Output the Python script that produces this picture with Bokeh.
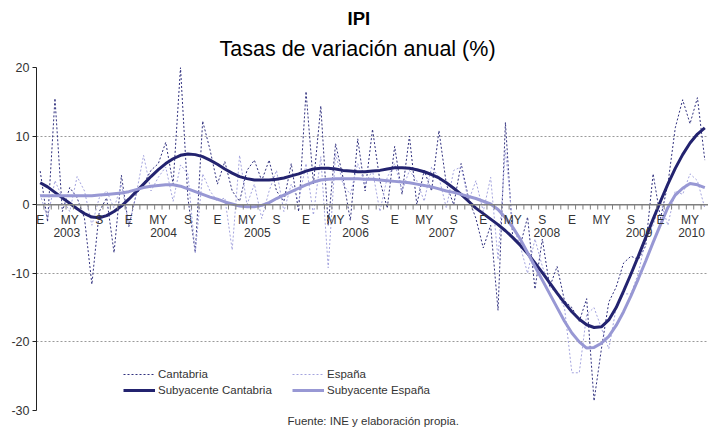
from bokeh.plotting import figure
from bokeh.models import Range1d, Legend, LegendItem, Span, Title, FixedTicker
from bokeh.embed import file_html
from bokeh.resources import INLINE
from bokeh.core.properties import value

FONT = "Liberation Sans"

# ---------------- data ----------------
first_year = 2003
n_months = 91  # Jan 2003 .. Jul 2010
month_tick_labels = {0: "E", 4: "MY", 8: "S"}
year_labels = ["2003", "2004", "2005", "2006", "2007", "2008", "2009", "2010"]
year_label_month = [3.6, 16.7, 29.4, 42.7, 54.4, 68.6, 81.1, 88.2]
y_ticks = [-30, -20, -10, 0, 10, 20]

cantabria = [4.9, -2.5, 15.5, -1.0, 2.5, 1.0, -2.0, -11.6, -1.0, 1.0,
             -7.0, 4.3, -3.2, 1.5, 3.0, 5.0, 6.0, 9.1, 3.0, 20.0,
             1.0, -7.0, 12.2, 8.0, 3.0, 6.3, 2.0, 0.5, 5.0, 6.5,
             3.5, 6.5, 2.0, 0.5, 6.0, -1.0, 16.5, 3.0, 14.4, -3.0,
             8.9, 4.0, -2.3, 9.6, 2.0, 11.0, 3.5, -0.5, 8.5, 1.5,
             10.0, 0.0, 5.0, 2.0, 10.8, 3.0, 0.0, 6.0, 1.0, -2.0,
             -6.3, -3.0, -15.4, 12.0, -5.0, -6.0, -1.8, -12.3, -5.0, -12.0,
             -9.0, -14.0, -15.0, -17.0, -13.7, -28.6, -21.0, -14.2, -12.0, -8.5,
             -7.5, -8.0, -6.0, 4.5, -2.0, 3.0, 11.2, 15.3, 11.8, 15.6,
             6.5]

espana = [1.5, -2.0, 3.5, 1.0, -1.0, 4.1, 2.0, -3.0, 1.0, 2.0,
          -0.5, 3.0, -3.0, 1.5, 7.2, 2.0, 4.0, 5.5, 0.5, 5.8,
          4.5, -7.0, 4.5, 2.0, 0.5, 1.0, -6.6, 7.2, 0.0, 3.0,
          -2.0, 2.0, 5.0, -1.0, 3.0, 0.5, 6.0, -1.5, 7.0, -9.2,
          7.5, 3.0, 1.5, 6.0, 3.0, 5.0, -1.0, 4.0, 6.0, 2.0,
          5.0, 3.5, 0.5, 5.5, 4.0, -0.5, 5.0, 5.5, 0.5, 3.5,
          -1.0, 4.0, -8.0, 8.0, -3.0, -6.0, -10.0, -5.0, -9.0, -12.0,
          -13.0, -15.0, -24.5, -24.5, -16.0, -15.0, -18.0, -21.0, -15.0, -13.0,
          -13.0, -10.0, -5.0, -3.0, 0.5, -3.0, 2.0, 1.5, 4.5, 3.5,
          -0.5]

sub_cantabria = [3.2, 2.6, 1.8, 1.0, 0.2, -0.6, -1.3, -1.8, -1.9, -1.6,
                 -1.0, -0.2, 0.8, 1.9, 3.0, 4.1, 5.1, 6.0, 6.7, 7.2,
                 7.4, 7.3, 7.0, 6.5, 5.9, 5.2, 4.6, 4.1, 3.8, 3.6,
                 3.6, 3.6, 3.7, 3.9, 4.2, 4.5, 4.9, 5.2, 5.3, 5.3,
                 5.2, 5.0, 4.9, 4.8, 4.8, 4.9, 5.0, 5.2, 5.4, 5.4,
                 5.3, 5.1, 4.8, 4.4, 3.9, 3.2, 2.4, 1.5, 0.5, -0.5,
                 -1.3, -2.1, -2.9, -3.8, -4.8, -5.9, -7.1, -8.5, -9.9, -11.4,
                 -12.9, -14.3, -15.6, -16.7, -17.5, -17.9, -17.8, -16.8, -15.0, -12.6,
                 -10.1, -7.5, -4.8, -2.1, 0.5, 3.0, 5.3, 7.3, 9.0, 10.3,
                 11.2]

sub_espana = [1.3, 1.3, 1.3, 1.3, 1.3, 1.3, 1.3, 1.3, 1.4, 1.5,
              1.6, 1.7, 1.9, 2.2, 2.5, 2.7, 2.8, 2.9, 2.9, 2.7,
              2.3, 1.9, 1.5, 1.1, 0.8, 0.4, 0.1, -0.2, -0.3, -0.3,
              -0.1, 0.3, 0.9, 1.4, 1.9, 2.4, 2.9, 3.3, 3.6, 3.7,
              3.8, 3.8, 3.8, 3.8, 3.7, 3.7, 3.6, 3.5, 3.4, 3.3,
              3.2, 3.0, 2.8, 2.6, 2.3, 2.0, 1.8, 1.5, 1.2, 0.9,
              0.5, 0.1, -0.7, -1.9, -3.3, -5.0, -7.0, -9.0, -11.0, -13.0,
              -15.0, -17.0, -18.7, -20.0, -20.9, -20.8, -20.2, -19.2, -17.6, -15.6,
              -13.3, -10.8, -8.2, -5.5, -2.9, -0.4, 1.4, 2.4, 3.1, 2.9,
              2.5]

months = list(range(n_months))

# ---------------- styles ----------------
DARK = "#23236f"
DARK_DASH = "#30307e"
LIGHT = "#9898d4"
LIGHT_DASH = "#a4a4de"
AXIS_GREY = "#7f7f7f"
TEXT = "#333333"

p = figure(width=708, height=429, output_backend="svg", toolbar_location=None,
           x_axis_location=None,
           x_range=Range1d(-0.5, n_months - 0.5), y_range=Range1d(-30, 20),
           min_border_left=36, min_border_right=0, min_border_bottom=18,
           min_border_top=67)
p.outline_line_color = None
p.background_fill_color = "white"
p.border_fill_color = "white"
p.xgrid.visible = False

yax = p.yaxis[0]
yax.ticker = FixedTicker(ticks=y_ticks)
yax.major_label_overrides = {t: str(t) for t in y_ticks}
yax.minor_tick_line_color = None
yax.major_tick_out = 4
yax.major_tick_in = 0
yax.axis_line_color = "#222222"
yax.major_tick_line_color = "#222222"
yax.major_label_text_font = FONT
yax.major_label_text_font_size = "12.5px"
yax.major_label_text_color = TEXT
yax.major_label_standoff = 3

p.ygrid.grid_line_dash = "2 2"
p.ygrid.grid_line_color = "#9a9a9a"
p.ygrid.grid_line_width = 1

# titles
p.add_layout(Title(text="Tasas de variación anual (%)", align="left", offset=183,
                   text_font=FONT, text_font_size="21.5px", text_font_style="normal",
                   text_color="#000000", standoff=13), "above")
p.add_layout(Title(text="IPI", align="left", offset=311,
                   text_font=FONT, text_font_size="18.5px", text_font_style="bold",
                   text_color="#000000", standoff=0), "above")
p.add_layout(Title(text="Fuente: INE y elaboración propia.", align="left", offset=251,
                   text_font=FONT, text_font_size="11.5px", text_font_style="normal",
                   text_color=TEXT, standoff=5), "below")

# series
r_cant = p.line(months, cantabria, line_color=DARK_DASH, line_width=1, line_dash="2 2")
r_esp = p.line(months, espana, line_color=LIGHT_DASH, line_width=1, line_dash="2 2")
r_scant = p.line(months, sub_cantabria, line_color=DARK, line_width=3)
r_sesp = p.line(months, sub_espana, line_color=LIGHT, line_width=3)

# category x axis drawn along y = 0
p.add_layout(Span(location=0, dimension="width", line_color=AXIS_GREY, line_width=1.5))
bounds = [m - 0.5 for m in range(n_months + 1)]
p.segment(x0=bounds, y0=[0] * len(bounds), x1=bounds, y1=[-0.7] * len(bounds),
          line_color=AXIS_GREY, line_width=1)
lab_x = [m for m in months if (m % 12) in month_tick_labels]
lab_t = [month_tick_labels[m % 12] for m in lab_x]
p.text(x=lab_x, y=[0] * len(lab_x), text=lab_t, text_align="center", text_baseline="top",
       y_offset=8, text_font=value(FONT), text_font_size="12px", text_color=TEXT)
p.text(x=year_label_month, y=[0] * len(year_labels), text=year_labels, text_align="center",
       text_baseline="top", y_offset=23, text_font=value(FONT), text_font_size="12px",
       text_color=TEXT)

legend = Legend(items=[LegendItem(label="Cantabria", renderers=[r_cant]),
                       LegendItem(label="Subyacente Cantabria", renderers=[r_scant]),
                       LegendItem(label="España", renderers=[r_esp]),
                       LegendItem(label="Subyacente España", renderers=[r_sesp])],
                ncols=2, location=(87, 12))
legend.background_fill_alpha = 0
legend.border_line_color = None
legend.padding = 0
legend.margin = 0
legend.spacing = 0
legend.glyph_width = 32
legend.glyph_height = 16
legend.label_height = 16
legend.label_standoff = 3
legend.label_width = 134
legend.label_text_font = FONT
legend.label_text_font_size = "11.5px"
legend.label_text_color = TEXT
p.add_layout(legend)

open("out.html", "w").write(file_html(p, INLINE))
